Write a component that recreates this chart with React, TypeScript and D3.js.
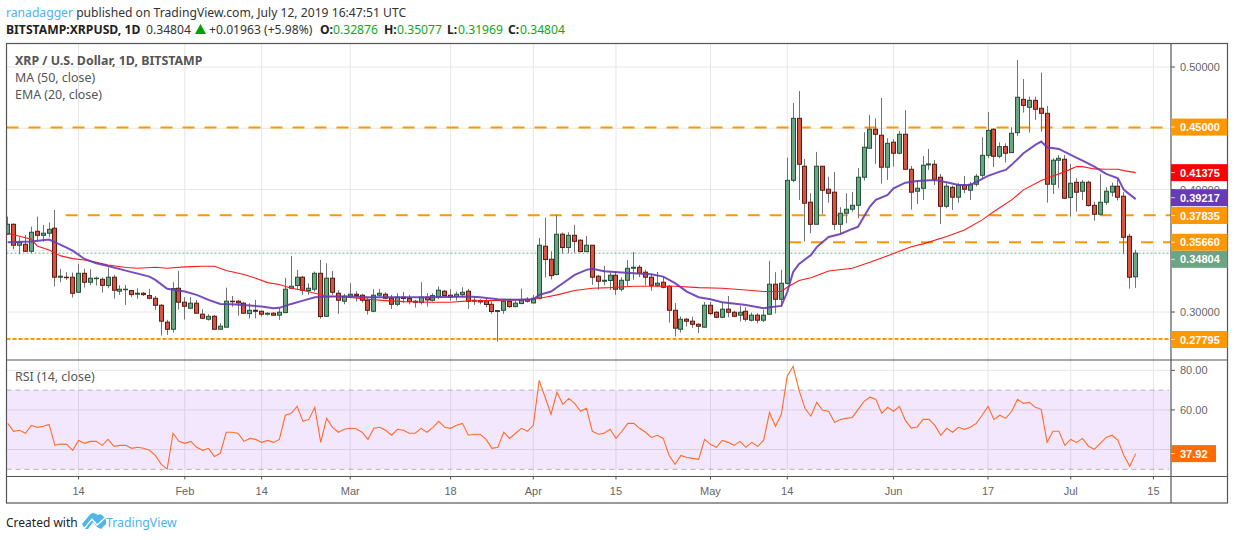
import React from "react";
import * as d3 from "d3";

const startDay = Date.UTC(2019, 0, 2);
const dayMs = 86400000;

const opens = [
  .3635,.3716,.3545,.3553,.3496,.3659,.3626,.3643,.3684,.3284,
  .3284,.3284,.3161,.3316,.3243,.3273,.3267,.3216,.3284,.3170,
  .3183,.3175,.3145,.3153,.3134,.3112,.3055,.2917,.2859,.3194,
  .3080,.3031,.3072,.2982,.2941,.2965,.2859,.2876,.3088,.3088,
  .3072,.2987,.3014,.3006,.2982,.2990,.2974,.2995,.3194,.3216,
  .3284,.3175,.3186,.3316,.2965,.3276,.3153,.3088,.3129,.3145,
  .3137,.3096,.3006,.3137,.3145,.3112,.3063,.3121,.3110,.3088,
  .3077,.3121,.3096,.3126,.3170,.3137,.3126,.3142,.3170,.3088,
  .3093,.3093,.3063,.3004,.3014,.3088,.3044,.3069,.3104,.3074,
  .3112,.3537,.3431,.3306,.3635,.3526,.3626,.3586,.3493,.3545,
  .3292,.3251,.3257,.3300,.3186,.3259,.3357,.3365,.3325,.3284,
  .3218,.3243,.3210,.3014,.2859,.2941,.2925,.2900,.2876,.3055,
  .2998,.2957,.3023,.2998,.2974,.3006,.2933,.2974,.2933,.2982,
  .3227,.3104,.3234,.4075,.4581,.4190,.3896,.3716,.4190,.4002,
  .3978,.3716,.3806,.3839,.3871,.4100,.4337,.4492,.4443,.4182,
  .4386,.4296,.4451,.4165,.3986,.4010,.4201,.4206,.4100,.3863,
  .4018,.3937,.4035,.3994,.4043,.4116,.4279,.4492,.4271,.4350,
  .4301,.4464,.4736,.4671,.4728,.4663,.4622,.4043,.4239,.4247,
  .3934,.4059,.3986,.4059,.3871,.3798,.3896,.3978,.4027,.3945,.3618,.32876,
];
const highs = [
  .3779,.3724,.3610,.3629,.3697,.3779,.3711,.3730,.3833,.3352,
  .3325,.3322,.3393,.3354,.3349,.3289,.3284,.3363,.3303,.3218,
  .3221,.3180,.3194,.3164,.3189,.3131,.3066,.2936,.3243,.3335,
  .3121,.3121,.3099,.3023,.2982,.2976,.2908,.3199,.3131,.3099,
  .3082,.3072,.3099,.3012,.2996,.2998,.3031,.3278,.3458,.3344,
  .3295,.3235,.3330,.3425,.3398,.3335,.3180,.3148,.3235,.3170,
  .3148,.3115,.3186,.3189,.3161,.3140,.3153,.3164,.3140,.3099,
  .3243,.3153,.3153,.3208,.3180,.3186,.3167,.3202,.3189,.3126,
  .3104,.3112,.3085,.3017,.3099,.3104,.3093,.3191,.3121,.3140,
  .3605,.3771,.3496,.3792,.3648,.3651,.3711,.3594,.3621,.3548,
  .3303,.3376,.3322,.3333,.3284,.3425,.3490,.3384,.3344,.3306,
  .3327,.3289,.3221,.3074,.2963,.2952,.2963,.2908,.3082,.3082,
  .3006,.3082,.3131,.3009,.3050,.3039,.2995,.2990,.3017,.3417,
  .3325,.3344,.4260,.4706,.4804,.4250,.3969,.4307,.4190,.4105,
  .4143,.3855,.3969,.3980,.4176,.4467,.4609,.4581,.4747,.4418,
  .4410,.4478,.4647,.4192,.4073,.4274,.4331,.4241,.4127,.4051,
  .4032,.4051,.4111,.4062,.4127,.4426,.4633,.4500,.4385,.4377,
  .4508,.5057,.4902,.4758,.4758,.4954,.4682,.4255,.4282,.4282,
  .4209,.4092,.4078,.4073,.3901,.4124,.4018,.4056,.4084,.3978,.3638,.35077,
];
const lows = [
  .3629,.3512,.3471,.3490,.3480,.3580,.3575,.3610,.3208,.3243,
  .3262,.3118,.3161,.3199,.3218,.3216,.3159,.3194,.3110,.3140,
  .3058,.3121,.3107,.3131,.3104,.3017,.2808,.2813,.2832,.3020,
  .2938,.3023,.2990,.2944,.2930,.2859,.2859,.2876,.3044,.2971,
  .2990,.2946,.2949,.2963,.2971,.2968,.2936,.2990,.3186,.3180,
  .3140,.3140,.3167,.2946,.2963,.3140,.2985,.3063,.3112,.3085,
  .3077,.2979,.2998,.3126,.3104,.3025,.3050,.3072,.3063,.3036,
  .3061,.3044,.3085,.3107,.3134,.3093,.3093,.3121,.3025,.3058,
  .3063,.3039,.2985,.2759,.2985,.3034,.3039,.3063,.3077,.3069,
  .3104,.3281,.3265,.3300,.3477,.3480,.3485,.3493,.3493,.3221,
  .3183,.3218,.3180,.3140,.3167,.3213,.3262,.3284,.3216,.3172,
  .3202,.3194,.2914,.2800,.2832,.2881,.2870,.2829,.2873,.2974,
  .2949,.2949,.2957,.2957,.2922,.2922,.2922,.2908,.2919,.2974,
  .2989,.3044,.3225,.4060,.3915,.3575,.3643,.3716,.3801,.3893,
  .3670,.3638,.3725,.3820,.3765,.4073,.4337,.4209,.4048,.4078,
  .4187,.4288,.4165,.3836,.3882,.3915,.4160,.4037,.3719,.3847,
  .3833,.3893,.3969,.3915,.4024,.4092,.4255,.4184,.4255,.4220,
  .4301,.4437,.4628,.4464,.4568,.4473,.3893,.3964,.4010,.3921,
  .3779,.3820,.3915,.3861,.3746,.3793,.3874,.3942,.3910,.3472,.3191,.31969,
];
const closes = [
  .3716,.3545,.3569,.3496,.3651,.3626,.3643,.3675,.3284,.3292,
  .3281,.3153,.3316,.3243,.3276,.3276,.3218,.3284,.3178,.3186,
  .3186,.3142,.3153,.3142,.3112,.3055,.2925,.2859,.3191,.3080,
  .3047,.3072,.2990,.2949,.2965,.2859,.2884,.3088,.3085,.3074,
  .2990,.3014,.3006,.2982,.2990,.2974,.2998,.3186,.3210,.3284,
  .3178,.3194,.3316,.2963,.3276,.3161,.3096,.3129,.3145,.3134,
  .3096,.3014,.3137,.3153,.3112,.3063,.3121,.3110,.3085,.3080,
  .3121,.3099,.3134,.3178,.3134,.3123,.3145,.3161,.3088,.3096,
  .3082,.3061,.3004,.3012,.3088,.3044,.3072,.3096,.3088,.3112,
  .3545,.3428,.3297,.3635,.3526,.3626,.3577,.3493,.3545,.3284,
  .3251,.3259,.3300,.3186,.3259,.3357,.3365,.3316,.3284,.3218,
  .3235,.3202,.3014,.2868,.2941,.2925,.2900,.2884,.3055,.2987,
  .2957,.3023,.2998,.2965,.2998,.2941,.2974,.2933,.2974,.3227,
  .3104,.3235,.4075,.4581,.4206,.3888,.3716,.4190,.3994,.3969,
  .3716,.3806,.3839,.3871,.4100,.4345,.4492,.4451,.4182,.4377,
  .4296,.4451,.4165,.3978,.4010,.4198,.4209,.4084,.3863,.4027,
  .3937,.4035,.4002,.4043,.4108,.4279,.4483,.4271,.4350,.4296,
  .4459,.4753,.4687,.4728,.4655,.4622,.4043,.4239,.4255,.3929,
  .4051,.3978,.4059,.3869,.3798,.3896,.3986,.4027,.3937,.3610,.3284,.34804,
];

const rsiValues = [
  53.2,49.2,49.7,48.2,52.2,51.2,51.7,52.7,42.1,42.8,
  42.6,39.6,44.6,43.1,44.1,44.1,42.1,45.1,41.6,42.1,
  42.1,40.6,41.1,40.6,39.6,37.0,32.5,30.1,48.2,44.1,
  43.1,44.1,41.1,39.6,40.6,36.5,38.1,48.7,48.7,48.2,
  44.1,45.6,45.1,43.6,44.6,43.6,45.1,57.3,58.3,61.8,
  54.2,55.2,61.3,43.6,55.7,51.2,48.7,50.2,50.7,50.5,
  48.7,45.1,50.7,51.2,49.7,47.2,50.2,49.7,48.2,48.2,
  50.7,48.7,51.2,54.2,51.2,50.7,52.2,53.2,47.2,47.7,
  47.7,45.1,40.6,41.1,48.7,45.6,48.2,50.7,49.2,52.2,
  74.9,66.4,57.8,68.9,62.8,65.8,63.3,59.3,60.8,49.2,
  47.7,48.2,50.2,45.6,49.2,53.2,53.2,50.7,48.7,46.1,
  47.2,45.6,37.0,32.5,37.0,36.0,35.5,35.0,45.1,42.6,
  41.1,44.6,43.6,42.1,44.1,41.1,43.6,41.6,44.6,58.8,
  51.7,57.8,77.0,82.0,69.9,60.8,56.8,63.8,59.8,59.3,
  53.7,55.2,55.7,56.2,60.3,64.3,66.4,65.3,58.3,61.3,
  59.3,61.8,54.7,50.8,51.4,55.2,55.2,52.2,47.2,50.7,
  48.7,51.2,50.2,51.2,53.2,57.3,61.8,55.2,57.3,55.7,
  59.3,65.3,63.3,63.8,61.3,60.3,43.6,49.2,49.2,42.1,
  45.1,43.6,45.6,41.6,40.1,43.1,46.1,47.2,44.6,37.0,
  31.5,37.92,
];

const emaDays = [0,4,7,9,11,13,15,17,20,24,25,27,30,32,34,36,38,41,43,45,46,48,50,52,55,58,61,63,67,69,72,78,80,83,86,89,90,92,94,96,98,99,101,104,106,109,111,113,115,117,119,121,125,128,129,131,132,133,134,136,137,139,141,143,144,145,146,147,149,150,152,154,157,159,161,163,166,168,169,170,172,174,175,176,178,180,182,184,186,188,189,191];
const emaValues = [.3569,.3575,.3591,.3548,.3501,.3433,.3398,.3376,.3338,.3289,.3262,.3189,.3167,.3140,.3099,.3066,.3063,.3053,.3044,.3031,.3034,.3066,.3093,.3121,.3126,.3126,.3121,.3121,.3121,.3121,.3121,.3126,.3121,.3104,.3099,.3104,.3140,.3167,.3235,.3303,.3344,.3352,.3333,.3322,.3316,.3308,.3289,.3235,.3167,.3121,.3104,.3080,.3058,.3031,.3039,.3050,.3163,.3327,.3392,.3465,.3530,.3612,.3637,.3678,.3697,.3779,.3861,.3915,.3956,.4010,.4056,.4070,.4078,.4059,.4037,.4037,.4111,.4146,.4160,.4201,.4296,.4364,.4391,.4345,.4331,.4282,.4236,.4187,.4127,.4092,.3997,.39217];

const maDays = [0,4,5,7,9,11,13,15,17,20,22,25,27,30,33,35,37,40,42,44,46,48,50,52,54,58,61,64,67,72,75,78,82,86,89,91,93,96,99,102,106,110,113,117,121,125,128,131,132,134,136,139,143,146,149,153,155,159,162,165,167,170,172,175,176,179,181,182,184,186,188,189,191];
const maValues = [.3643,.3594,.3539,.3507,.3458,.3436,.3425,.3406,.3384,.3363,.3357,.3365,.3357,.3368,.3374,.3374,.3338,.3306,.3276,.3240,.3224,.3194,.3178,.3153,.3131,.3118,.3104,.3093,.3085,.3080,.3080,.3091,.3093,.3099,.3104,.3121,.3140,.3175,.3194,.3199,.3210,.3210,.3210,.3199,.3194,.3180,.3167,.3167,.3202,.3257,.3280,.3335,.3357,.3406,.3460,.3533,.3556,.3616,.3670,.3752,.3820,.3915,.3997,.4073,.4092,.4146,.4187,.4187,.4168,.4165,.4165,.4154,.41375];

const priceTicks = ["0.50000", "0.40000", "0.30000"];
const priceTickValues = [0.5, 0.4, 0.3];
const gridPrices = [0.5, 0.45, 0.4, 0.35, 0.3];
const rsiTicks = [80, 60, 40];
const rsiTickLabels = ["80.00", "60.00"];
const dateTicks = ["14", "Feb", "14", "Mar", "18", "Apr", "15", "May", "14", "Jun", "17", "Jul", "15"];
const dateTickDays = [12, 30, 43, 58, 75, 89, 103, 119, 132, 150, 166, 180, 194];

const levelPrices = [0.45, 0.37835, 0.3566];
const supportPrice = 0.27795;

const labelTexts = ["0.45000", "0.41375", "0.39217", "0.37835", "0.35660", "0.34804", "0.27795"];
const labelPrices = [0.45, 0.41375, 0.39217, 0.37835, 0.3566, 0.34804, 0.27795];
const labelColors = ["#ff9800", "#ff0000", "#673ab7", "#ff9800", "#ff9800", "#6ba583", "#ff9800"];

const FONT = "'Liberation Sans', Arial, sans-serif";
const HEAD = "'Noto Sans', sans-serif";

const xOf = (i: number) => new Date(startDay + i * dayMs);
const x = d3.scaleUtc().domain([xOf(0), xOf(194)]).range([7.7, 1153.4]);
const y = d3.scaleLinear().domain([0.3, 0.5]).range([312, 67]);
const yR = d3.scaleLinear().domain([30, 80]).range([469.3, 370.3]);

const L = 6.5, PR = 1171, R = 1227.5, T = 43.5, D = 360, A = 476.5, B = 503;
const levelStarts = [L, 65.7, 789];
const levelNudge = [-0.8, -0.8, -0.3];
const labelNudge = [-1.2, 0, -1.4, -0.5, -0.4, 6.2, 0.5];

const lineP = d3.line<[number, number]>().x((d) => x(xOf(d[0]))).y((d) => y(d[1]));
const lineR = d3.line<[number, number]>().x((d) => x(xOf(d[0]))).y((d) => yR(d[1]));

const emaPts = emaDays.map((d, i) => [d, emaValues[i]] as [number, number]);
const maPts = maDays.map((d, i) => [d, maValues[i]] as [number, number]);
const rsiPts = rsiValues.map((v, i) => [i, v] as [number, number]);

const HS = 12.15;
const ohlc: [string, number, string, number][] = [
  ["O:", 320, "0.32876", 333],
  ["H:", 384, "0.35077", 397],
  ["L:", 447, "0.31969", 458],
  ["C:", 508, "0.34804", 520],
];

export default function App() {
  return (
    <svg width={1234} height={540} style={{ position: "absolute", left: 0, top: 0, background: "#fff" }}>
      <defs>
        <clipPath id="plot"><rect x={L} y={T} width={PR - L} height={D - T} /></clipPath>
      </defs>

      {/* header */}
      <text x={6} y={17} fontFamily={HEAD} fontSize={HS} fill="#333">
        <tspan fill="#4db2ec">ranadagger</tspan> published on TradingView.com, July 12, 2019 16:47:51 UTC
      </text>
      <text x={6} y={34} fontFamily={HEAD} fontSize={12.2} fontWeight="bold" fill="#222">BITSTAMP:XRPUSD, 1D</text>
      <text x={146} y={34} fontFamily={HEAD} fontSize={HS} fill="#333">0.34804</text>
      <path d="M195 34 L206 34 L200.5 24 Z" fill="#00a000" />
      <text x={209} y={34} fontFamily={HEAD} fontSize={HS} fill="#333">+0.01963 (+5.98%)</text>
      {ohlc.map((t) => (
        <g key={t[0]} fontFamily={HEAD} fontSize={HS}>
          <text x={t[1]} y={34} fontWeight="bold" fill="#222">{t[0]}</text>
          <text x={t[3]} y={34} fill="#12a61c">{t[2]}</text>
        </g>
      ))}

      {/* grid */}
      <g stroke="#e6e6e6" strokeWidth={1}>
        {dateTickDays.map((d, i) => (
          <line key={i} x1={x(xOf(d))} x2={x(xOf(d))} y1={T} y2={A} />
        ))}
        {gridPrices.map((p) => <line key={p} x1={L} x2={PR} y1={y(p)} y2={y(p)} />)}
        {rsiTicks.map((v) => <line key={v} x1={L} x2={PR} y1={yR(v)} y2={yR(v)} />)}
      </g>

      {/* RSI pane */}
      <rect x={L} y={yR(70)} width={PR - L - 1} height={yR(30) - yR(70)} fill="rgb(150,40,240)" fillOpacity={0.115} />
      <g stroke="#b9adbf" strokeWidth={1} strokeDasharray="5 4">
        <line x1={L} x2={PR - 2} y1={yR(70)} y2={yR(70)} />
        <line x1={L} x2={PR - 2} y1={yR(30)} y2={yR(30)} />
      </g>
      <path d={lineR(rsiPts) as string} fill="none" stroke="#ff6d2a" strokeWidth={1.1} />

      {/* price pane */}
      <g clipPath="url(#plot)">
        <line x1={L} x2={PR} y1={y(closes[191])} y2={y(closes[191])} stroke="#6ba583" strokeWidth={1} strokeDasharray="2 2" />
        {levelPrices.map((p, i) => (
          <line key={p} x1={levelStarts[i]} x2={i === 0 ? 1163 : PR} y1={y(p) + levelNudge[i]} y2={y(p) + levelNudge[i]}
            stroke="#ff9800" strokeWidth={2} strokeDasharray="12 10" />
        ))}
        <line x1={L} x2={PR} y1={y(supportPrice)} y2={y(supportPrice)} stroke="#ff9800" strokeWidth={2} strokeDasharray="4 2" />
        {opens.map((o, i) => {
          const c = closes[i];
          const up = c >= o;
          const cx = Math.round(x(xOf(i)) - 0.5) + 0.5;
          const top = y(Math.max(o, c));
          const bot = y(Math.min(o, c));
          return (
            <g key={i}>
              <line x1={cx} x2={cx} y1={y(highs[i])} y2={y(lows[i])} stroke="#737375" strokeWidth={1} />
              <rect x={cx - 2} y={top} width={4} height={Math.max(bot - top, 0.5)}
                fill={up ? "#6ba583" : "#d75442"} stroke={up ? "#225437" : "#5b1a13"} strokeWidth={1} />
            </g>
          );
        })}
        <path d={lineP(maPts) as string} fill="none" stroke="#ff1a1a" strokeWidth={1.1} />
        <path d={lineP(emaPts) as string} fill="none" stroke="#673ab7" strokeOpacity={0.9} strokeWidth={2} />
      </g>

      {/* legends */}
      <text x={15} y={65} fontFamily={HEAD} fontSize={12.4} fontWeight="bold" fill="#555">XRP / U.S. Dollar, 1D, BITSTAMP</text>
      <text x={15} y={82} fontFamily={HEAD} fontSize={12.4} fill="#555">MA (50, close)</text>
      <text x={15} y={99} fontFamily={HEAD} fontSize={12.4} fill="#555">EMA (20, close)</text>
      <text x={15} y={381} fontFamily={HEAD} fontSize={12.4} fill="#555">RSI (14, close)</text>

      {/* frames */}
      <g fill="none" stroke="#555" strokeWidth={1.2}>
        <rect x={L} y={T} width={R - L} height={B - T} />
        <line x1={L} x2={R} y1={D} y2={D} />
        <line x1={L} x2={R} y1={A} y2={A} />
        <line x1={PR} x2={PR} y1={T} y2={B} />
      </g>

      {/* axes */}
      {dateTicks.map((t, i) => {
        const px = x(xOf(dateTickDays[i]));
        return (
          <g key={i}>
            <line x1={px} x2={px} y1={A} y2={A + 3} stroke="#555" />
            <text x={px} y={495} textAnchor="middle" fontFamily={FONT} fontSize={11} fill="#666">{t}</text>
          </g>
        );
      })}
      {priceTicks.map((t, i) => (
        <g key={t}>
          <line x1={PR} x2={PR + 4} y1={y(priceTickValues[i])} y2={y(priceTickValues[i])} stroke="#555" />
          <text x={1180} y={y(priceTickValues[i]) + 4} fontFamily={FONT} fontSize={11} fill="#666">{t}</text>
        </g>
      ))}
      {labelTexts.map((text, i) => {
        const cy = y(labelPrices[i]) + labelNudge[i];
        return (
          <g key={text}>
            <rect x={PR} y={cy - 8.5} width={R - PR} height={17} fill={labelColors[i]} />
            <line x1={PR} x2={PR + 4} y1={cy} y2={cy} stroke="#fff" strokeOpacity={0.7} />
            <text x={1180} y={cy + 4} fontFamily={FONT} fontSize={11} fontWeight="bold" fill="#fff">{text}</text>
          </g>
        );
      })}
      {rsiTickLabels.map((t, i) => (
        <g key={t}>
          <line x1={PR} x2={PR + 4} y1={yR(rsiTicks[i])} y2={yR(rsiTicks[i])} stroke="#555" />
          <text x={1180} y={yR(rsiTicks[i]) + 4} fontFamily={FONT} fontSize={11} fill="#666">{t}</text>
        </g>
      ))}
      <rect x={PR} y={yR(37.92) - 8.5} width={45} height={17} fill="#ff6d00" />
      <line x1={PR} x2={PR + 4} y1={yR(37.92)} y2={yR(37.92)} stroke="#fff" strokeOpacity={0.7} />
      <text x={1180} y={yR(37.92) + 4} fontFamily={FONT} fontSize={11} fontWeight="bold" fill="#fff">37.92</text>

      {/* footer */}
      <text x={6} y={527} fontFamily={HEAD} fontSize={12} fill="#222">Created with</text>
      <path d="M82 524 L90 514.5 Q92 512 95 513.5 L98 515 Q101 513 103 516 L106 520 L106 524 L101 529 L97 527 L93 522 L88 529 L85 529 Z" fill="#4db8e8" />
      <path d="M84 529 L92 519 L97 525 L106 517" fill="none" stroke="#fff" strokeWidth={1.4} />
      <text x={106} y={527} fontFamily={HEAD} fontSize={12.3} fill="#4db2ec">TradingView</text>
    </svg>
  );
}
